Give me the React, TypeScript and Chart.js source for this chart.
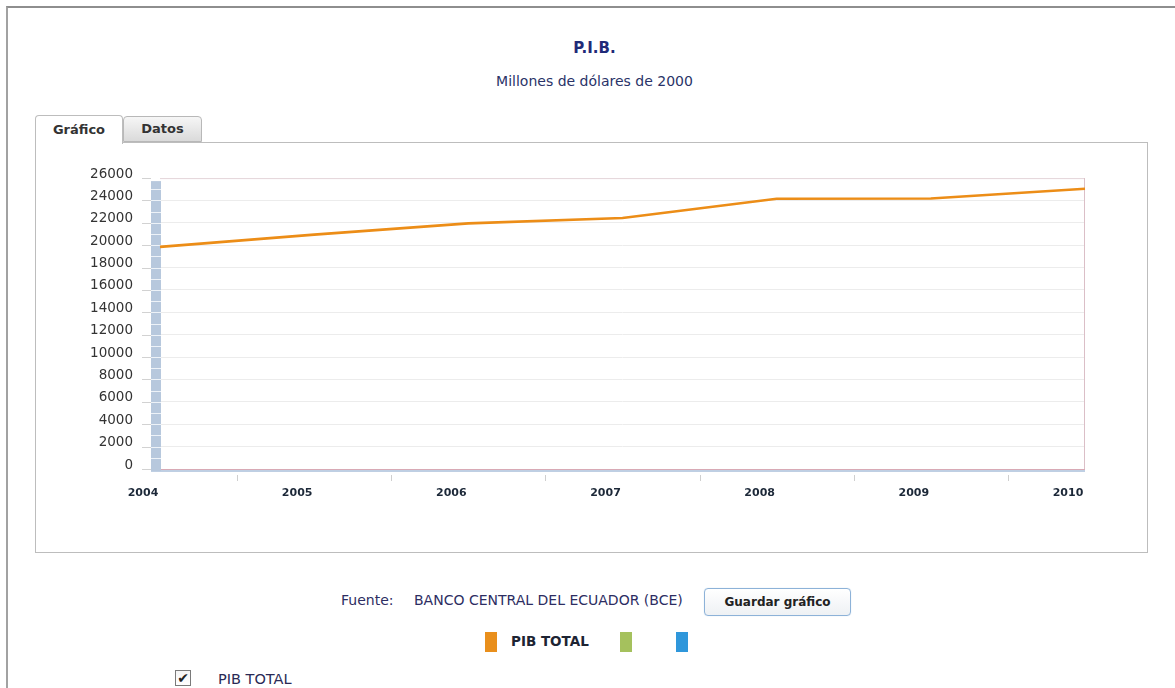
import React, { useEffect, useRef } from "react";
import { Chart, registerables } from "chart.js";

Chart.register(...registerables);

// ---- data ----
const years = ["2004", "2005", "2006", "2007", "2008", "2009", "2010"];
const pibTotal = [19850, 20950, 21950, 22430, 24150, 24170, 25050];
const yMin = 0;
const yMax = 26000;
const yStep = 2000;
const stripeStep = 1000;

const FONT = "'DejaVu Sans', Verdana, sans-serif";

const decorPlugin = {
  id: "decor",
  beforeDatasetsDraw(chart: any) {
    const { ctx, chartArea: a, scales } = chart;
    const y = scales.y;
    const x = scales.x;
    ctx.save();
    // plot borders
    ctx.fillStyle = "#e6d6db";
    ctx.fillRect(a.left, a.top, a.right - a.left, 1);
    ctx.fillStyle = "#dbbfc7";
    ctx.fillRect(a.right - 1, a.top, 1, a.bottom - a.top);
    ctx.fillStyle = "#d8aab5";
    ctx.fillRect(a.left, a.bottom, a.right - a.left, 1);
    ctx.fillStyle = "#bfcfe3";
    ctx.fillRect(a.left - 9, a.bottom + 1, a.right - a.left + 9, 2);
    // striped axis wall
    const barL = a.left - 9;
    const barW = 10;
    ctx.fillStyle = "#b7c8dd";
    ctx.fillRect(barL, a.top + 3, barW, a.bottom - a.top - 1);
    ctx.fillStyle = "#edf2f8";
    for (let v = yMin + stripeStep; v < yMax; v += stripeStep) {
      const py = Math.round(y.getPixelForValue(v));
      ctx.fillRect(barL, py, barW, 1);
    }
    // little tick marks left of the wall
    ctx.fillStyle = "#d2d2d2";
    for (let v = yMin; v <= yMax; v += yStep) {
      const py = Math.round(y.getPixelForValue(v));
      ctx.fillRect(barL - 9, py, 9, 1);
    }
    // x tick marks between categories
    ctx.fillStyle = "#cfcfcf";
    for (let i = 0; i < years.length - 1; i++) {
      const px = (x.getPixelForValue(i) + x.getPixelForValue(i + 1)) / 2;
      ctx.fillRect(Math.round(px), a.bottom + 6, 1, 6);
    }
    ctx.restore();
  },
};

function PibChart() {
  const ref = useRef<HTMLCanvasElement | null>(null);
  useEffect(() => {
    if (!ref.current) return;
    const chart = new Chart(ref.current, {
      type: "line",
      data: {
        labels: years,
        datasets: [
          {
            label: "PIB TOTAL",
            data: pibTotal,
            borderColor: "#ec8d17",
            backgroundColor: "#ec8d17",
            borderWidth: 2.6,
            pointRadius: 0,
            tension: 0,
            fill: false,
          },
        ],
      },
      options: {
        animation: false,
        responsive: false,
        maintainAspectRatio: false,
        layout: { padding: { top: 35, right: 61, left: 0, bottom: 0 } },
        plugins: {
          legend: { display: false },
          tooltip: { enabled: false },
          title: { display: false },
        },
        scales: {
          x: {
            type: "category",
            offset: false,
            border: { display: false },
            grid: { display: false, drawTicks: false },
            ticks: {
              padding: 18,
              labelOffset: -17,
              maxRotation: 0,
              autoSkip: false,
              color: "#1c2838",
              font: { family: FONT, size: 11, weight: "bold" },
            },
            afterFit(scale: any) {
              scale.height = 82;
            },
          },
          y: {
            min: yMin,
            max: yMax,
            border: { display: false },
            grid: { color: "#ececec", lineWidth: 1, drawTicks: false },
            ticks: {
              stepSize: yStep,
              padding: 27,
              labelOffset: -4,
              color: "#333333",
              font: { family: FONT, size: 13.5 },
              callback: (value: any) => String(value),
            },
            afterFit(scale: any) {
              scale.width = 124;
            },
          },
        },
      },
      plugins: [decorPlugin],
    });
    return () => chart.destroy();
  }, []);
  return (
    <canvas
      ref={ref}
      width={1110}
      height={408}
      style={{ position: "absolute", left: 36, top: 143, width: 1110, height: 408 }}
    />
  );
}

const abs = (s: React.CSSProperties): React.CSSProperties => ({ position: "absolute", ...s });

export default function App() {
  return (
    <div
      style={{
        position: "absolute",
        left: 0,
        top: 0,
        width: 1175,
        height: 688,
        overflow: "hidden",
        background: "#ffffff",
        fontFamily: FONT,
      }}
    >
      {/* outer frame */}
      <div
        style={abs({
          left: 6,
          top: 6,
          width: 1200,
          height: 720,
          borderTop: "2px solid #8e8e8e",
          borderLeft: "2px solid #a2a2a2",
        })}
      />
      {/* titles */}
      <div
        style={abs({
          left: 0,
          top: 39,
          width: 1189,
          textAlign: "center",
          fontSize: 15,
          lineHeight: "18px",
          fontWeight: "bold",
          color: "#1f2a78",
        })}
      >
        P.I.B.
      </div>
      <div
        style={abs({
          left: 0,
          top: 72,
          width: 1189,
          textAlign: "center",
          fontSize: 14,
          lineHeight: "18px",
          color: "#2a3368",
        })}
      >
        Millones de dólares de 2000
      </div>

      {/* panel */}
      <div
        style={abs({
          left: 35,
          top: 142,
          width: 1113,
          height: 411,
          boxSizing: "border-box",
          border: "1px solid #bdbdbd",
        })}
      />
      {/* tabs */}
      <div
        style={abs({
          left: 123,
          top: 116,
          width: 79,
          height: 26,
          boxSizing: "border-box",
          border: "1px solid #b8b8b8",
          borderRadius: "4px 4px 0 0",
          background: "linear-gradient(#f6f6f6, #dadada)",
          textAlign: "center",
          fontSize: 13,
          lineHeight: "24px",
          fontWeight: "bold",
          color: "#333333",
        })}
      >
        Datos
      </div>
      <div
        style={abs({
          left: 35,
          top: 115,
          width: 88,
          height: 29,
          boxSizing: "border-box",
          border: "1px solid #bdbdbd",
          borderBottom: "none",
          borderRadius: "4px 4px 0 0",
          background: "#ffffff",
          textAlign: "center",
          fontSize: 13,
          lineHeight: "28px",
          fontWeight: "bold",
          color: "#333333",
        })}
      >
        Gráfico
      </div>

      <PibChart />

      {/* source + button */}
      <div style={abs({ left: 341, top: 591, fontSize: 14, lineHeight: "18px", color: "#2d2d62", whiteSpace: "nowrap" })}>
        Fuente:
      </div>
      <div style={abs({ left: 414, top: 591, fontSize: 14, lineHeight: "18px", color: "#2d2d62", whiteSpace: "nowrap" })}>
        BANCO CENTRAL DEL ECUADOR (BCE)
      </div>
      <div
        style={abs({
          left: 704,
          top: 588,
          width: 147,
          height: 28,
          boxSizing: "border-box",
          border: "1px solid #8db2d8",
          borderRadius: 4,
          boxShadow: "0 0 1px #b8d0ea",
          background: "linear-gradient(#ffffff, #eef1f4)",
          textAlign: "center",
          fontSize: 12,
          lineHeight: "26px",
          fontWeight: "bold",
          color: "#222222",
        })}
      >
        Guardar gráfico
      </div>

      {/* legend */}
      <div style={abs({ left: 485, top: 632, width: 12, height: 20, background: "#e98f1c" })} />
      <div
        style={abs({
          left: 511,
          top: 632,
          fontSize: 13.5,
          lineHeight: "18px",
          fontWeight: "bold",
          color: "#1d2433",
          whiteSpace: "nowrap",
        })}
      >
        PIB TOTAL
      </div>
      <div style={abs({ left: 620, top: 632, width: 12, height: 20, background: "#a5c15d" })} />
      <div style={abs({ left: 676, top: 632, width: 12, height: 20, background: "#2f97db" })} />

      {/* checkbox */}
      <div
        style={abs({
          left: 175,
          top: 670,
          width: 16,
          height: 16,
          boxSizing: "border-box",
          border: "1px solid #7a7a7a",
          background: "linear-gradient(#f4f4f4, #ffffff)",
          fontSize: 14,
          lineHeight: "14px",
          textAlign: "center",
          color: "#222222",
        })}
      >
        ✔
      </div>
      <div
        style={abs({
          left: 218,
          top: 670,
          fontSize: 14.5,
          lineHeight: "18px",
          color: "#2a2a55",
          whiteSpace: "nowrap",
        })}
      >
        PIB TOTAL
      </div>
    </div>
  );
}
